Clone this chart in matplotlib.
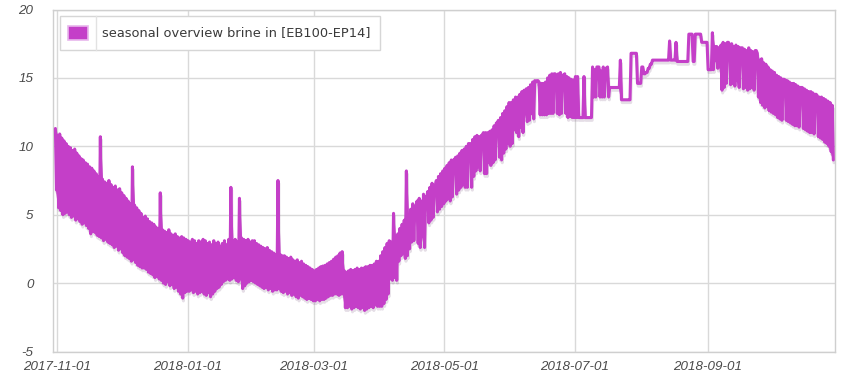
import numpy as np
import pandas as pd
import matplotlib
matplotlib.use('Agg')
import matplotlib.pyplot as plt
import matplotlib.patheffects as pe
from matplotlib.patches import Rectangle
from matplotlib.lines import Line2D

plt.rcParams['path.simplify'] = False

# ---------------- data (daily maximum / minimum of brine-in temperature, degC) -------------
start_date = '2017-10-31'

oct17_max = [11.3]
oct17_min = [6.8]

nov_max = [10.8, 10.9, 10.6, 10.4, 10.2, 10.0, 9.9, 9.7, 9.8, 9.5,
           9.3, 9.1, 9.0, 8.8, 8.7, 8.5, 8.4, 8.2, 8.0, 7.8,
           10.7, 7.6, 7.4, 7.3, 7.5, 7.2, 7.0, 7.1, 6.8, 6.9]
nov_min = [5.5, 5.3, 5.0, 5.1, 5.2, 5.0, 4.8, 4.9, 4.6, 4.7,
           4.5, 4.3, 4.4, 4.2, 4.0, 3.6, 3.8, 3.7, 3.5, 3.4,
           3.3, 3.1, 3.2, 3.0, 2.9, 2.8, 2.6, 2.7, 2.4, 2.5]

dec_max = [6.6, 6.4, 6.2, 6.0, 5.8, 8.5, 5.7, 5.5, 5.3, 5.1,
           4.8, 4.9, 4.7, 4.5, 4.4, 4.3, 4.1, 4.0, 6.6, 3.9,
           3.8, 3.7, 3.9, 3.6, 3.5, 3.6, 3.4, 3.3, 3.4, 3.3, 3.2]
dec_min = [2.2, 2.0, 1.9, 1.8, 1.6, 1.7, 1.5, 1.3, 1.2, 1.1,
           1.1, 1.0, 0.8, 0.7, 0.6, 0.4, 0.5, 0.3, 0.2, 0.0,
           -0.1, 0.1, -0.2, -0.1, -0.4, -0.3, -0.6, -0.8, -1.1, -0.7, -0.6]

jan_max = [3.1, 3.0, 3.2, 3.1, 2.9, 3.1, 3.0, 3.2, 3.1, 2.9,
           3.0, 2.8, 3.1, 2.9, 3.0, 2.7, 2.9, 3.1, 2.8, 3.2,
           7.0, 3.1, 3.2, 3.0, 6.2, 3.3, 3.2, 3.1, 3.2, 3.0, 3.1]
jan_min = [-0.6, -0.5, -0.7, -0.6, -0.8, -0.7, -0.6, -0.8, -0.9, -0.7,
           -1.0, -0.8, -0.6, -0.4, -0.3, -0.1, 0.1, 0.2, 0.3, 0.2,
           0.3, 0.4, 0.2, 0.1, 0.3, -0.4, -0.2, 0.0, 0.1, 0.2, 0.1]

feb_max = [3.1, 2.9, 2.8, 2.7, 2.6, 2.5, 2.6, 2.4, 2.3, 2.2,
           2.1, 7.5, 2.1, 2.0, 2.0, 1.9, 1.8, 1.9, 1.7, 1.6,
           1.7, 1.5, 1.6, 1.4, 1.3, 1.2, 1.1, 1.0]
feb_min = [0.0, -0.1, -0.2, -0.3, -0.4, -0.3, -0.5, -0.4, -0.6, -0.5,
           -0.5, -0.4, -0.6, -0.7, -0.6, -0.8, -0.7, -0.9, -0.8, -1.0,
           -1.1, -0.9, -1.0, -1.1, -1.2, -1.1, -1.2, -1.3]

mar_max = [0.9, 1.0, 1.1, 1.2, 1.25, 1.3, 1.4, 1.5, 1.6, 1.75,
           1.9, 2.0, 2.2, 2.3, 0.9, 0.8, 0.9, 1.0, 0.9, 1.0,
           1.1, 1.0, 1.1, 1.1, 1.2, 1.2, 1.3, 1.3, 1.4, 1.6, 1.6]
mar_min = [-1.3, -1.2, -1.3, -1.2, -1.2, -1.1, -1.0, -0.9, -0.9, -0.8,
           -0.8, -0.9, -0.8, -0.8, -1.8, -1.8, -1.7, -1.9, -1.8, -1.7,
           -1.8, -1.9, -1.8, -2.0, -1.9, -1.8, -1.7, -1.8, -1.6, -1.7, -1.7]

apr_max = [2.0, 2.3, 2.6, 2.9, 3.1, 3.0, 5.1, 3.3, 3.6, 4.0,
           4.3, 4.6, 8.2, 5.0, 5.4, 5.8, 5.6, 6.0, 6.2, 6.0,
           6.5, 6.3, 6.7, 7.0, 7.3, 7.1, 7.5, 7.8, 8.0, 8.2]
apr_min = [-1.7, -1.5, -1.2, -0.8, 0.3, 0.2, 0.4, 0.2, 1.6, 2.0,
           2.2, 1.8, 2.0, 2.5, 3.0, 3.1, 5.6, 2.9, 2.6, 3.4,
           2.6, 6.3, 4.4, 4.6, 4.8, 7.1, 5.2, 5.4, 5.6, 5.8]

may_max = [8.4, 8.6, 8.8, 9.0, 9.0, 9.2, 9.3, 9.5, 9.7, 9.8,
           10.0, 10.2, 10.2, 10.5, 10.7, 10.8, 10.7, 10.8, 11.0, 11.0,
           11.0, 11.1, 11.2, 11.5, 11.7, 11.9, 12.1, 12.4, 12.6, 12.9, 13.2]
may_min = [6.0, 6.2, 6.0, 6.3, 9.0, 6.5, 6.8, 7.0, 7.2, 7.0,
           7.0, 10.2, 7.0, 7.8, 8.2, 8.5, 8.2, 10.8, 8.0, 8.0,
           8.8, 8.6, 8.8, 9.0, 11.7, 9.2, 9.0, 9.5, 9.8, 10.2, 10.0]

jun_max = [13.2, 13.4, 13.6, 13.6, 13.8, 14.0, 14.1, 14.2, 14.3, 14.5,
           14.7, 14.8, 14.8, 14.7, 14.6, 14.6, 14.7, 15.0, 15.2, 15.3,
           15.3, 15.2, 15.3, 15.4, 15.2, 15.3, 15.1, 15.0, 14.9, 14.85]
jun_min = [10.2, 11.2, 11.0, 10.7, 11.4, 11.0, 12.4, 11.8, 11.9, 12.4,
           12.0, 14.7, 14.8, 12.3, 12.3, 12.3, 12.3, 12.4, 12.4, 12.4,
           15.3, 12.4, 12.3, 12.4, 15.2, 12.4, 12.1, 12.2, 12.1, 12.1]

jul_max = [15.1, 15.1, 12.1, 12.1, 15.1, 12.1, 12.1, 12.1, 15.8, 15.6,
           15.8, 15.8, 15.5, 15.8, 15.7, 15.8, 14.3, 14.3, 14.3, 14.3,
           14.3, 16.3, 13.4, 13.4, 13.4, 13.4, 16.8, 16.8, 16.8, 14.6, 14.6]
jul_min = [12.1, 12.1, 12.1, 12.1, 12.1, 12.1, 12.1, 12.1, 13.6, 13.6,
           15.8, 13.6, 13.6, 13.6, 15.7, 13.6, 14.3, 14.3, 14.3, 14.3,
           14.3, 13.4, 13.4, 13.4, 13.4, 13.4, 16.8, 16.8, 16.8, 14.6, 14.6]

aug_max = [15.8, 15.3, 15.4, 15.7, 16.0, 16.3, 16.3, 16.3, 16.3, 16.3,
           16.3, 16.3, 16.3, 17.7, 16.3, 16.3, 17.6, 16.2, 16.2, 16.2,
           16.2, 16.2, 18.2, 18.2, 16.2, 18.2, 18.2, 18.2, 17.6, 17.6, 17.6]
aug_min = [15.8, 15.3, 15.4, 15.7, 16.0, 16.3, 16.3, 16.3, 16.3, 16.3,
           16.3, 16.3, 16.3, 16.3, 16.3, 16.3, 16.2, 16.2, 16.2, 16.2,
           16.2, 16.2, 18.2, 18.2, 16.2, 18.2, 18.2, 18.2, 17.6, 17.6, 17.6]

sep_max = [15.6, 15.6, 18.3, 17.3, 17.3, 17.2, 17.4, 17.6, 17.5, 17.6,
           17.4, 17.5, 17.3, 17.4, 17.3, 17.2, 17.2, 17.1, 17.0, 17.2,
           17.0, 16.9, 17.0, 16.8, 16.3, 16.4, 16.1, 16.0, 15.8, 15.6]
sep_min = [15.6, 15.6, 15.6, 16.3, 15.7, 15.8, 14.1, 14.3, 14.6, 17.6,
           14.5, 14.6, 14.4, 14.8, 14.3, 17.2, 14.2, 14.3, 14.1, 14.2,
           14.3, 14.1, 17.0, 13.6, 13.2, 13.0, 12.8, 12.9, 12.6, 12.5]

oct18_max = [15.5, 15.4, 15.2, 15.1, 15.0, 14.9, 14.85, 14.8, 14.7, 14.6,
             14.6, 14.5, 14.4, 14.3, 14.3, 14.2, 14.1, 14.0, 14.0, 13.9,
             13.8, 13.7, 13.6, 13.6, 13.5, 13.4, 13.3, 13.2, 13.0]
oct18_min = [12.4, 12.3, 12.1, 12.0, 11.9, 14.9, 11.9, 11.8, 11.7, 11.6,
             11.5, 11.5, 11.4, 14.3, 11.3, 11.2, 11.1, 11.0, 11.0, 10.9,
             13.8, 10.7, 10.6, 10.5, 10.3, 10.2, 10.0, 9.6, 9.0]

series_label = 'seasonal overview brine in [EB100-EP14]'
y_ticks = [-5, 0, 5, 10, 15, 20]
x_tick_labels = ['2017-11-01', '2018-01-01', '2018-03-01',
                 '2018-05-01', '2018-07-01', '2018-09-01']

# ---------------- build series ---------------------------------------------------------
daily_max = np.concatenate([oct17_max, nov_max, dec_max, jan_max, feb_max, mar_max,
                            apr_max, may_max, jun_max, jul_max, aug_max, sep_max, oct18_max])
daily_min = np.concatenate([oct17_min, nov_min, dec_min, jan_min, feb_min, mar_min,
                            apr_min, may_min, jun_min, jul_min, aug_min, sep_min, oct18_min])
days = pd.date_range(start_date, periods=len(daily_max), freq='D')
n = len(days)
t = np.empty(2 * n, dtype='datetime64[ns]')
t[0::2] = (days + pd.Timedelta(hours=6)).values
t[1::2] = (days + pd.Timedelta(hours=18)).values
v = np.empty(2 * n)
v[0::2] = daily_max
v[1::2] = daily_min
t_mid = (days + pd.Timedelta(hours=12)).values

# ---------------- figure ---------------------------------------------------------------
W, H = 850, 375
fig = plt.figure(figsize=(W / 100, H / 100), dpi=100)
ax_l, ax_r, ax_t, ax_b = 53, 835, 9.5, 351.5
ax = fig.add_axes([ax_l / W, 1 - ax_b / H, (ax_r - ax_l) / W, (ax_b - ax_t) / H])

line_color = '#C43FC8'
# soft drop shadow underneath the series
ax.plot(t, v, color=line_color, lw=2.2, solid_joinstyle='round', solid_capstyle='round',
        path_effects=[pe.SimpleLineShadow(offset=(0.5, -2), shadow_color='#8a6a90', alpha=0.22)],
        zorder=2.7)
# daily range (dense intra-day oscillation) -> solid band
ax.fill_between(t_mid, daily_min, daily_max, facecolor=line_color, edgecolor='none',
                zorder=2.8)
ax.plot(t, v, color=line_color, lw=2.2, solid_joinstyle='round', solid_capstyle='round',
        zorder=3)

ax.set_ylim(-5, 20)
ax.set_xlim(pd.Timestamp('2017-10-30 03:00'), pd.Timestamp('2018-10-30 13:00'))
ax.set_yticks(y_ticks)
ax.set_yticklabels([str(y) for y in y_ticks])
ax.set_xticks(pd.to_datetime(x_tick_labels))
ax.set_xticklabels(x_tick_labels)

ax.grid(True, color='#d9d9d9', lw=1.0, zorder=0)
for s in ax.spines.values():
    s.set_color('#cfcfcf')
    s.set_linewidth(1.0)
ax.tick_params(length=0, labelsize=9.6, labelcolor='#4a4a4a')
ax.tick_params(axis='y', pad=14)
ax.tick_params(axis='x', pad=7)
for lab in ax.get_xticklabels() + ax.get_yticklabels():
    lab.set_fontstyle('italic')
    lab.set_fontfamily(['Liberation Sans', 'DejaVu Sans'])

# ---------------- legend (drawn in pixel layout) -----------------------------------------
def fx(x):
    return x / W

def fy(y):
    return 1 - y / H

fig.patches.append(Rectangle((fx(60), fy(49.5)), fx(380) - fx(60), fy(16) - fy(49.5),
                             transform=fig.transFigure, facecolor='white', edgecolor='#d6d6d6',
                             lw=1.0, zorder=5))
fig.patches.append(Rectangle((fx(68), fy(40)), fx(88) - fx(68), fy(26) - fy(40),
                             transform=fig.transFigure, facecolor=line_color,
                             edgecolor='#e7b6ec', lw=1.2, zorder=6))
fig.lines.append(Line2D([fx(96), fx(96)], [fy(16), fy(49.5)], transform=fig.transFigure,
                        color='#e2e2e2', lw=1.0, zorder=6))
fig.text(fx(102), fy(33), series_label, ha='left', va='center', fontsize=9.4,
         color='#3a3a3a', family=['DejaVu Sans'], zorder=7)

fig.savefig('out.png', dpi=100)
